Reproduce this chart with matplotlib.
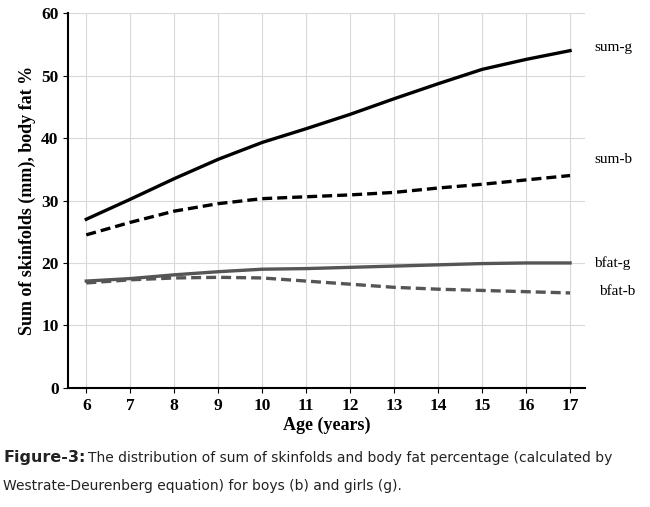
import matplotlib.pyplot as plt

ages = list(range(6, 18))
sum_g = [27, 30.2, 33.5, 36.6, 39.3, 41.5, 43.8, 46.3, 48.7, 51, 52.6, 54]
sum_b = [24.5, 26.5, 28.3, 29.5, 30.3, 30.6, 30.9, 31.3, 32, 32.6, 33.3, 34]
bfat_g = [17.1, 17.5, 18.1, 18.6, 19, 19.1, 19.3, 19.5, 19.7, 19.9, 20, 20]
bfat_b = [16.8, 17.3, 17.6, 17.7, 17.6, 17.1, 16.6, 16.1, 15.8, 15.6, 15.4, 15.2]

serif = 'Liberation Serif'
fig = plt.figure(figsize=(6.5, 5.07), dpi=100)
ax = fig.add_axes([0.105, 0.235, 0.795, 0.739])
ax.plot(ages, sum_g, color='black', lw=2.4)
ax.plot(ages, sum_b, color='black', lw=2.4, ls=(0, (3, 1.5)))
ax.plot(ages, bfat_g, color='#555555', lw=2.4)
ax.plot(ages, bfat_b, color='#555555', lw=2.4, ls=(0, (3, 1.5)))
ax.set_xlim(5.59, 17.34)
ax.set_ylim(0, 60)
ax.set_xticks(ages)
ax.set_yticks(range(0, 61, 10))
ax.grid(True, color='#d9d9d9', lw=0.8)
ax.set_axisbelow(True)
for s in ['top', 'right']:
    ax.spines[s].set_visible(False)
for s in ['left', 'bottom']:
    ax.spines[s].set_linewidth(1.5)
for lab in ax.get_xticklabels() + ax.get_yticklabels():
    lab.set_fontfamily(serif); lab.set_fontsize(12.5); lab.set_fontweight('bold')
ax.set_xlabel('Age (years)', fontfamily=serif, fontsize=13, fontweight='bold', labelpad=2)
ax.set_ylabel('Sum of skinfolds (mm), body fat %', fontfamily=serif, fontsize=13, fontweight='bold', labelpad=4)
for txt, y in [('sum-g', 54.5), ('sum-b', 36.5), ('bfat-g', 20), ('bfat-b', 15.5)]:
    ax.text(17.55 if txt != 'bfat-b' else 17.65, y, txt, fontfamily=serif, fontsize=11, va='center', clip_on=False)
fig.text(0.005, 0.088, 'Figure-3:', fontsize=11.5, fontweight='bold', color='#222222')
fig.text(0.135, 0.088, 'The distribution of sum of skinfolds and body fat percentage (calculated by',
         fontsize=10, color='#222222')
fig.text(0.005, 0.033, 'Westrate-Deurenberg equation) for boys (b) and girls (g).', fontsize=10, color='#222222')
fig.savefig('out.png')
